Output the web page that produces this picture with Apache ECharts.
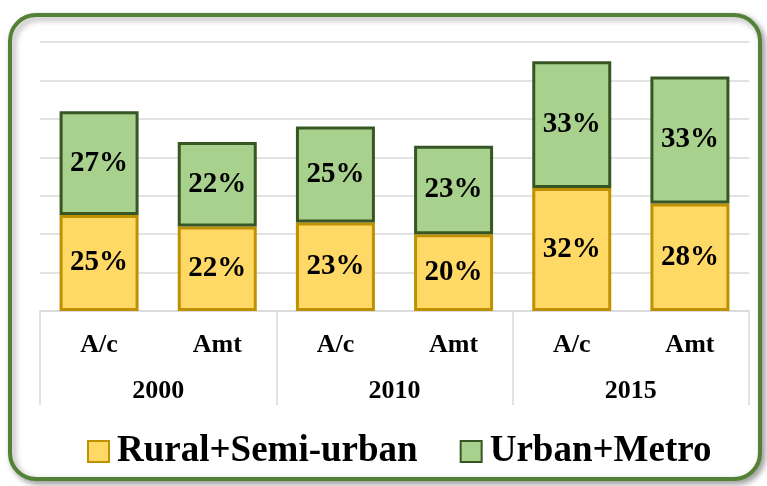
<!DOCTYPE html>
<html>
<head>
<meta charset="utf-8">
<script src="https://cdn.jsdelivr.net/npm/echarts@6/dist/echarts.min.js"></script>
<style>
html,body{margin:0;padding:0;background:#fff;}
#c{width:767px;height:486px;}
</style>
</head>
<body>
<div id="c"></div>
<script>
var categories = ['A/c', 'Amt', 'A/c', 'Amt', 'A/c', 'Amt'];
var years = ['2000', '2010', '2015'];
var ruralValues = [25, 22, 23, 20, 32, 28];
var urbanValues = [27, 22, 25, 23, 33, 33];
var seriesNames = ['Rural+Semi-urban', 'Urban+Metro'];

var FONT = '"Liberation Serif", "Times New Roman", serif';
var chart = echarts.init(document.getElementById('c'), null, {renderer: 'canvas'});

function pct(p) { return p.value + '%'; }

chart.setOption({
  animation: false,
  backgroundColor: '#ffffff',
  graphic: [{
    type: 'rect',
    z: -10,
    shape: {x: 10, y: 15, width: 750, height: 464, r: 26},
    style: {
      fill: '#ffffff',
      stroke: '#538135',
      lineWidth: 4,
      shadowBlur: 6,
      shadowOffsetX: 3,
      shadowOffsetY: 3,
      shadowColor: 'rgba(0,0,0,0.35)'
    }
  }],
  grid: {left: 40, right: 18, top: 42, bottom: 175, containLabel: false},
  legend: {
    data: seriesNames,
    top: 428,
    left: 82,
    icon: 'rect',
    itemWidth: 21,
    itemHeight: 21,
    itemGap: 42,
    textStyle: {fontFamily: FONT, fontWeight: 'bold', fontSize: 37, color: '#000', padding: [0, 0, 0, 3]}
  },
  xAxis: [{
    type: 'category',
    data: categories,
    position: 'bottom',
    axisLine: {show: true, lineStyle: {color: '#d9d9d9', width: 1.5}},
    axisTick: {show: false},
    axisLabel: {interval: 0, margin: 21, fontFamily: FONT, fontWeight: 'bold', fontSize: 26, color: '#000'}
  }, {
    type: 'category',
    data: years,
    position: 'bottom',
    axisLine: {show: false},
    axisTick: {show: true, length: 94, interval: 0, lineStyle: {color: '#d9d9d9', width: 1.5}},
    axisLabel: {interval: 0, margin: 67, fontFamily: FONT, fontWeight: 'bold', fontSize: 26, color: '#000'}
  }],
  yAxis: {
    type: 'value',
    min: 0,
    max: 70,
    interval: 10,
    axisLabel: {show: false},
    axisLine: {show: false},
    axisTick: {show: false},
    splitLine: {lineStyle: {color: '#d9d9d9', width: 1.5}}
  },
  series: [{
    name: seriesNames[0],
    type: 'bar',
    stack: 'total',
    data: ruralValues,
    barWidth: 79,
    itemStyle: {color: '#FFD966', borderColor: '#BF9000', borderWidth: 3},
    label: {show: true, position: 'inside', formatter: pct, fontFamily: FONT, fontWeight: 'bold', fontSize: 29, color: '#000'}
  }, {
    name: seriesNames[1],
    type: 'bar',
    stack: 'total',
    data: urbanValues,
    barWidth: 79,
    itemStyle: {color: '#A9D18E', borderColor: '#375623', borderWidth: 3},
    label: {show: true, position: 'inside', formatter: pct, fontFamily: FONT, fontWeight: 'bold', fontSize: 29, color: '#000'}
  }]
});
</script>
</body>
</html>
